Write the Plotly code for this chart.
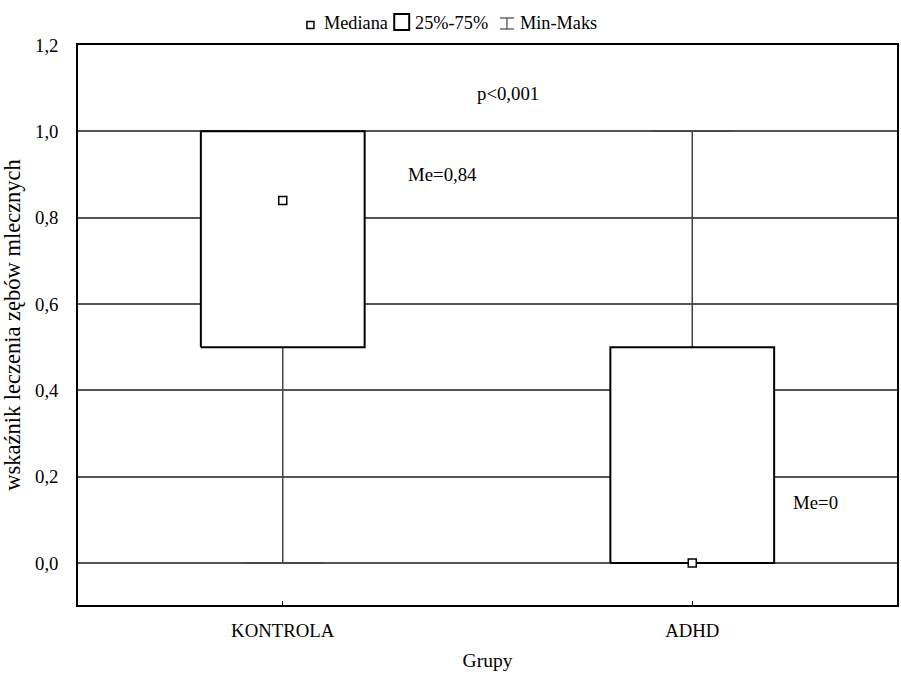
import plotly.graph_objects as go

# Group statistics
groups = ["KONTROLA", "ADHD"]
q1 = [0.5, 0.0]
q3 = [1.0, 0.5]
medians = [0.84, 0.0]
mins = [0.0, 0.0]
maxs = [1.0, 1.0]
p_text = "p<0,001"

y_ticks = [0.0, 0.2, 0.4, 0.6, 0.8, 1.0, 1.2]
y_ticktext = [f"{v:.1f}".replace(".", ",") for v in y_ticks]

FONT = "'Liberation Serif', 'Times New Roman', Times, serif"
FS = 18.8

W, H = 901, 675
ML, MR, MT, MB = 78, 2, 45, 70

BOX_HALF = 0.2
CAP_HALF = 0.1


def fmt(v):
    s = f"{v:.2f}".rstrip("0").rstrip(".")
    return s.replace(".", ",")


fig = go.Figure()

for i, g in enumerate(groups):
    # whiskers (min -> q1, q3 -> max) with caps
    wx = [i, i, None, i, i, None,
          i - CAP_HALF, i + CAP_HALF, None, i - CAP_HALF, i + CAP_HALF]
    wy = [mins[i], q1[i], None, q3[i], maxs[i], None,
          mins[i], mins[i], None, maxs[i], maxs[i]]
    fig.add_trace(go.Scatter(x=wx, y=wy, mode="lines",
                             line=dict(color="#444", width=1.5),
                             showlegend=False, hoverinfo="skip"))
    # interquartile box
    bx = [i - BOX_HALF, i + BOX_HALF, i + BOX_HALF, i - BOX_HALF, i - BOX_HALF]
    by = [q1[i], q1[i], q3[i], q3[i], q1[i]]
    fig.add_trace(go.Scatter(x=bx, y=by, mode="lines", fill="toself",
                             fillcolor="white",
                             line=dict(color="black", width=2),
                             showlegend=False, hoverinfo="skip"))
    # median marker
    fig.add_trace(go.Scatter(x=[i], y=[medians[i]], mode="markers",
                             marker=dict(symbol="square", size=8, color="white",
                                         line=dict(color="black", width=1.5)),
                             showlegend=False, hoverinfo="skip"))

annotations = [
    dict(x=0.55, y=1.088, xref="x", yref="y", text=p_text, showarrow=False),
    dict(x=0.39, y=0.90, xref="x", yref="y", text="Me=" + fmt(medians[0]), showarrow=False),
    dict(x=1.30, y=0.14, xref="x", yref="y", text="Me=" + fmt(medians[1]), showarrow=False),
]

# Legend drawn in pixel terms above the plot area
pw, ph = W - ML - MR, H - MT - MB


def px(x):
    return (x - ML) / pw


def py(y):
    return (H - MB - y) / ph


shapes = [
    # median symbol
    dict(type="rect", xref="paper", yref="paper",
         x0=px(307.5), x1=px(314.5), y0=py(28.5), y1=py(21.5),
         line=dict(color="black", width=1.5), fillcolor="white"),
    # box symbol
    dict(type="rect", xref="paper", yref="paper",
         x0=px(395), x1=px(410), y0=py(30), y1=py(14),
         line=dict(color="black", width=2), fillcolor="white"),
    # whisker symbol
    dict(type="line", xref="paper", yref="paper",
         x0=px(508), x1=px(508), y0=py(29), y1=py(18),
         line=dict(color="#444", width=1.2)),
    dict(type="line", xref="paper", yref="paper",
         x0=px(501), x1=px(515), y0=py(18), y1=py(18),
         line=dict(color="#444", width=1.2)),
    dict(type="line", xref="paper", yref="paper",
         x0=px(501), x1=px(515), y0=py(29), y1=py(29),
         line=dict(color="#444", width=1.2)),
]

for txt, x0 in [("Mediana", 323), ("25%-75%", 414), ("Min-Maks", 519)]:
    annotations.append(dict(x=px(x0), y=py(23), xref="paper", yref="paper",
                            xanchor="left", yanchor="middle", text=txt,
                            showarrow=False, font=dict(size=18.3)))

fig.update_layout(
    width=W, height=H,
    margin=dict(l=ML, r=MR, t=MT, b=MB),
    paper_bgcolor="white", plot_bgcolor="white",
    font=dict(family=FONT, size=FS, color="black"),
    showlegend=False,
    annotations=annotations,
    shapes=shapes,
    xaxis=dict(
        range=[-0.5, 1.5], tickvals=list(range(len(groups))), ticktext=groups,
        showgrid=False, zeroline=False,
        showline=True, linecolor="black", linewidth=1.5, mirror=True,
        ticks="inside", ticklen=4, tickcolor="black",
        ticklabelstandoff=8,
        title=dict(text="Grupy", standoff=13, font=dict(size=19.5)),
    ),
    yaxis=dict(
        range=[-0.097, 1.2], tickvals=y_ticks, ticktext=y_ticktext,
        showgrid=True, gridcolor="#555", gridwidth=1.5, zeroline=False,
        showline=True, linecolor="black", linewidth=1.5, mirror=True,
        ticks="", ticklabelstandoff=14,
        title=dict(text="wskaźnik leczenia zębów mlecznych", standoff=10,
                   font=dict(size=22.5)),
    ),
)

fig.write_html("out.html")
